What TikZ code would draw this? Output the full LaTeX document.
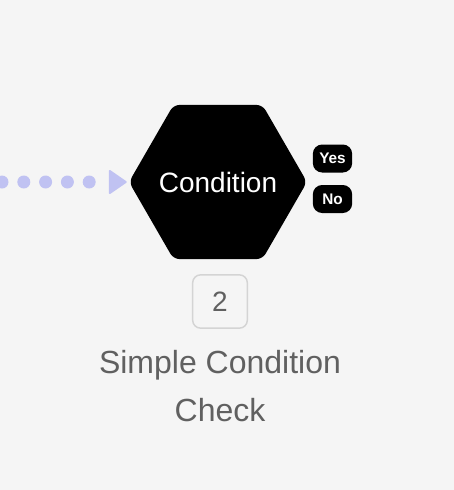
\documentclass[tikz,border=0pt]{standalone}
\usepackage{fontspec}
\setmainfont{Liberation Sans}
\usepackage{tikz}
\usetikzlibrary{positioning, arrows.meta, shapes.geometric}

\definecolor{bgcol}{RGB}{245,245,245}
\definecolor{flowcol}{RGB}{192,194,242}
\definecolor{textgray}{RGB}{96,96,96}
\definecolor{boxgray}{RGB}{212,212,212}

\begin{document}
\begin{tikzpicture}[x=0.75pt, y=-0.75pt,
    hexnode/.style={regular polygon, regular polygon sides=6, fill=black, inner sep=0pt,
        minimum size=133.5pt, rounded corners=4.5pt},
    hexlabel/.style={text=white, font=\fontsize{21}{25}\selectfont},
    badge/.style={fill=black, text=white, inner sep=0pt, minimum width=29.5pt, minimum height=21pt,
        rounded corners=7pt, font=\fontsize{11.5}{13}\selectfont\bfseries},
    numbox/.style={draw=boxgray, line width=1.1pt, rounded corners=6pt, minimum width=41pt,
        minimum height=40pt, inner sep=0pt, text=textgray, font=\fontsize{21}{25}\selectfont},
    flow/.style={draw=flowcol, line width=9.75pt, line cap=round, dash pattern=on 0pt off 16.35pt,
        shorten >=1.5pt, -{Triangle[length=14pt, width=19pt, line width=1.5pt, round]}}]
    % Background
    \useasboundingbox (0,0) rectangle (454,490);
    \fill[bgcol] (0,0) rectangle (454,490);
    % Condition
    \node[hexnode, label={[hexlabel]center:Condition}] (cond) at (218,182) {};
    \node[badge] (yes) at (332.5,158.5) {Yes};
    \node[badge] (no) at (332.5,199) {No};
    % Step number and title
    \node[numbox] (num) at (220,301.5) {2};
    \node[below=16pt of num, align=center, inner sep=0pt, text=textgray,
        font=\fontsize{24}{36}\selectfont] (title) {Simple Condition\\Check};
    % Incoming flow
    \coordinate (src) at (2,182);
    \draw[flow] (src) -- (cond);
\end{tikzpicture}
\end{document}
